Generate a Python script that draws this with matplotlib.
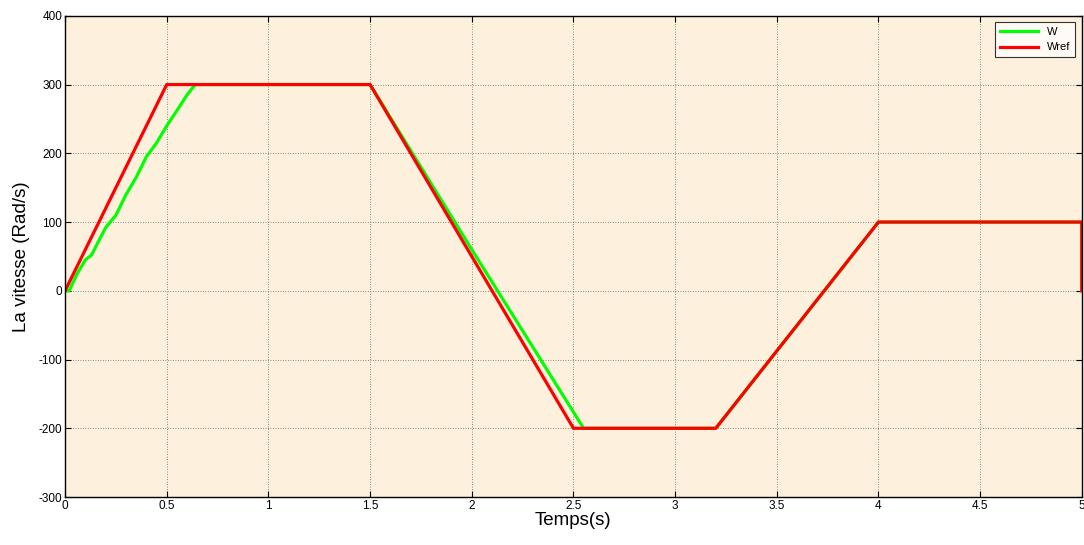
import matplotlib.pyplot as plt
from matplotlib.ticker import MultipleLocator

# reference speed profile (rad/s)
t_ref = [0, 0.5, 1.5, 2.5, 3.2, 4.0, 5.0, 5.0]
w_ref = [0, 300, 300, -200, -200, 100, 100, 0]

# measured speed
t_w = [0, 0.02, 0.06, 0.1, 0.13, 0.17, 0.2, 0.25, 0.3, 0.35, 0.4, 0.45, 0.5, 0.55, 0.6, 0.64,
       1.5, 2.0, 2.55, 3.2, 4.0, 5.0, 5.0]
w_w = [0, 0, 25, 45, 52, 75, 92, 110, 140, 165, 195, 215, 240, 262, 285, 300,
       300, 60, -200, -200, 100, 100, 0]

plt.rcParams['font.family'] = ['Liberation Sans', 'DejaVu Sans']
plt.rcParams['axes.unicode_minus'] = False

fig = plt.figure(figsize=(10.84, 5.45), dpi=100)
ax = fig.add_axes([0.060, 0.088, 0.938, 0.883])
ax.set_facecolor('#fdf0dc')

ax.plot(t_w, w_w, color='#00ff00', lw=2.3, label='W')
ax.plot(t_ref, w_ref, color='#ff0000', lw=2.3, label='Wref')

ax.set_xlim(0, 5)
ax.set_ylim(-300, 400)
ax.xaxis.set_major_locator(MultipleLocator(0.5))
ax.yaxis.set_major_locator(MultipleLocator(100))
ax.set_xticklabels([f'{v:g}' for v in ax.get_xticks()])
ax.grid(True, color='#666666', ls=(0, (1, 2)), lw=0.6)
ax.tick_params(direction='in', top=True, right=True, labelsize=8.5, length=4, pad=2)
for s in ax.spines.values():
    s.set_linewidth(1.0)

ax.set_xlabel('Temps(s)', fontsize=13.5, labelpad=0)
ax.set_ylabel('La vitesse (Rad/s)', fontsize=13.5, labelpad=6)

leg = ax.legend(loc='upper right', fontsize=8, frameon=True, fancybox=False,
                edgecolor='black', handlelength=3.5, borderaxespad=0.6)
leg.get_frame().set_facecolor('white')
leg.get_frame().set_linewidth(0.8)

fig.savefig('out.png', dpi=100, facecolor='white')
